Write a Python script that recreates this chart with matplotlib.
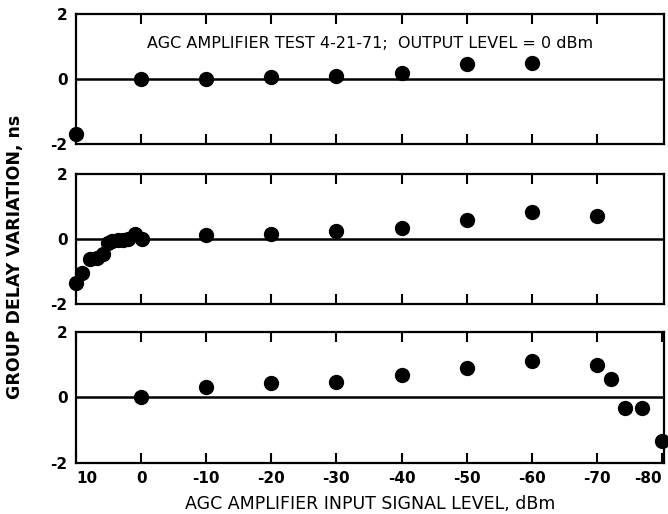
import matplotlib
matplotlib.use("Agg")
from matplotlib import pyplot as plt

plt.rcParams['font.family'] = ['DejaVu Sans']
plt.rcParams['axes.unicode_minus'] = False

# input signal level (dBm) and group delay variation (ns) for each panel
top_x = [10, 0, -10, -20, -30, -40, -50, -60]
top_y = [-1.68, 0.0, 0.0, 0.06, 0.1, 0.18, 0.46, 0.49]

mid_x = [10, 9.1, 7.9, 6.8, 5.9, 5.1, 4.4, 3.6, 2.8, 2.0, 1.0, -0.1,
         -10, -20, -30, -40, -50, -60, -70]
mid_y = [-1.35, -1.05, -0.62, -0.58, -0.45, -0.12, -0.06, -0.04, -0.03, 0.0, 0.16, 0.0,
         0.12, 0.15, 0.25, 0.34, 0.58, 0.83, 0.7]

bot_x = [0, -10, -20, -30, -40, -50, -60, -70, -72.2, -74.3, -77, -80]
bot_y = [0.0, 0.31, 0.43, 0.47, 0.68, 0.9, 1.1, 1.0, 0.55, -0.32, -0.32, -1.33]

xticks = [10, 0, -10, -20, -30, -40, -50, -60, -70, -80]
yticks = [-2, 0, 2]

title = 'AGC AMPLIFIER TEST 4-21-71;  OUTPUT LEVEL = 0 dBm'

fig = plt.figure(figsize=(6.68, 5.14), dpi=100)
boxes = [[0.1138, 0.7198, 0.880, 0.253],
         [0.1138, 0.4086, 0.880, 0.253],
         [0.1138, 0.0992, 0.880, 0.255]]
series = [(top_x, top_y), (mid_x, mid_y), (bot_x, bot_y)]

for i, (box, (xs, ys)) in enumerate(zip(boxes, series)):
    ax = fig.add_axes(box)
    ax.set_xlim(10, -80.3)
    ax.set_ylim(-2, 2)
    ax.axhline(0, color='black', lw=1.8, zorder=1)
    ax.plot(xs, ys, 'o', color='black', markersize=10, clip_on=False, zorder=3)
    ax.set_yticks(yticks)
    ax.set_yticklabels([str(t) for t in yticks], fontsize=11, fontweight='bold')
    ax.tick_params(axis='y', length=0, pad=6)
    ax.set_xticks(xticks[1:-1])
    ax.tick_params(axis='x', direction='in', top=True, bottom=True,
                   length=7, width=1.5)
    for s in ax.spines.values():
        s.set_linewidth(1.6)
    if i == 2:
        ax.set_xticks(xticks)
        labs = ax.set_xticklabels([str(t) for t in xticks], fontsize=11,
                                  fontweight='bold')
        labs[0].set_ha('left')
        labs[-1].set_ha('right')
        ax.tick_params(axis='x', pad=6)
        ax.set_xlabel('AGC AMPLIFIER INPUT SIGNAL LEVEL, dBm', fontsize=12.5,
                      labelpad=6)
    else:
        ax.set_xticklabels([])
    if i == 0:
        ax.text(0.5, 0.77, title, transform=ax.transAxes, ha='center', va='center',
                fontsize=11.5)

fig.text(0.022, 0.5, 'GROUP DELAY VARIATION, ns', rotation=90, ha='center',
         va='center', fontsize=12.5, fontweight='bold')

fig.savefig('out.png', dpi=100)
